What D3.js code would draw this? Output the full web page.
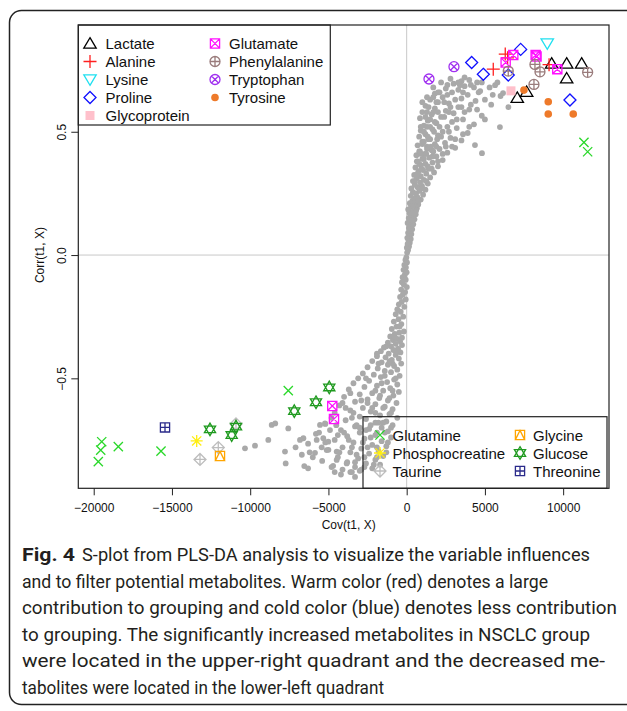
<!DOCTYPE html>
<html>
<head>
<meta charset="utf-8">
<script src="https://cdn.jsdelivr.net/npm/d3@7"></script>
<style>
body { margin: 0; background: #fff; }
text { font-family: "Liberation Sans", Arial, sans-serif; }
text.cap { font-family: Roboto, "Noto Sans", sans-serif; }
</style>
</head>
<body>
<script>
// tick values
var xTicks = [-20000, -15000, -10000, -5000, 0, 5000, 10000];
var yTicks = [-0.5, 0, 0.5];

// grey S-plot cloud: [cov, corr]
var cloud = [
  [30,0.01],[90,0.02],[10,0.03],[150,0.035],[60,0.045],[200,0.05],[120,0.06],[260,0.065],[40,0.07],[180,0.08],
  [300,0.085],[90,0.09],[230,0.1],[350,0.105],[140,0.11],[280,0.12],[420,0.125],[60,0.13],[200,0.135],[350,0.14],
  [500,0.145],[130,0.15],[260,0.155],[430,0.16],[580,0.165],[190,0.17],[340,0.175],[520,0.18],[100,0.185],[650,0.19],
  [280,0.195],[420,0.2],[740,0.205],[200,0.21],[560,0.215],[360,0.22],[900,0.225],[480,0.23],[680,0.235],[260,0.24],
  [1050,0.245],[600,0.25],[400,0.255],[820,0.26],[1200,0.265],[300,0.27],[700,0.275],[980,0.28],[520,0.285],[1350,0.29],
  [850,0.295],[400,0.3],[1100,0.305],[640,0.31],[1500,0.315],[900,0.32],[480,0.325],[1250,0.33],[1750,0.335],[760,0.34],
  [1050,0.345],[1400,0.35],[560,0.355],[2000,0.36],[900,0.365],[1200,0.37],[1650,0.375],[700,0.38],[2300,0.385],[1000,0.39],
  [1450,0.395],[1900,0.4],[620,0.405],[1150,0.41],[2600,0.415],[850,0.42],[1600,0.425],[2100,0.43],[3100,0.435],[1300,0.44],
  [700,0.445],[1800,0.45],[2450,0.455],[1000,0.46],[3500,0.465],[1500,0.47],[2800,0.475],[800,0.48],[2000,0.485],[1200,0.49],
  [3900,0.495],[2300,0.5],[900,0.505],[1650,0.51],[3200,0.515],[2600,0.52],[1100,0.525],[4300,0.53],[1900,0.535],[2900,0.54],
  [1350,0.545],[3600,0.55],[850,0.555],[2200,0.56],[4800,0.565],[1600,0.57],[3000,0.575],[1000,0.58],[2500,0.585],[4000,0.59],
  [1800,0.595],[3300,0.6],[1200,0.605],[5400,0.61],[2700,0.615],[2000,0.62],[4400,0.625],[1500,0.63],[3500,0.635],[2300,0.64],
  [6000,0.645],[3900,0.65],[1800,0.655],[2900,0.66],[4700,0.665],[3300,0.67],[2500,0.675],[5300,0.68],[3700,0.685],[4100,0.69],
  [3000,0.695],[4500,0.7],[3500,0.705],[4000,0.71],[3700,0.72],
  [500,0.3],[700,0.33],[950,0.35],[800,0.37],[1100,0.39],[900,0.41],[1300,0.43],[1000,0.45],[1400,0.47],[1100,0.5],
  [1300,0.52],[1500,0.55],[1200,0.56],[1700,0.58],[1400,0.6],[1900,0.62],[1700,0.64],[2100,0.66],[2600,0.69],[1350,0.48],
  [1750,0.5],[2100,0.52],[1950,0.47],[1550,0.44],[1250,0.41],[1650,0.4],[1350,0.36],[1700,0.42],
  [6160,0.657],[5650,0.689],[5960,0.519],[4812,0.413],[4364,0.446],[3405,0.689],
  [2400,0.56],[2800,0.6],[3100,0.63],[2600,0.65],[3600,0.66],[4300,0.68],[2200,0.70],[2800,0.715],[3300,0.7],[4600,0.66],
  [5000,0.63],[4100,0.61],[3700,0.58],[3200,0.55],[2700,0.5],[3100,0.47],[2500,0.44],[2300,0.41],[2000,0.38],[1600,0.35],
  [1250,0.3],[1000,0.27],[750,0.22],[600,0.18],[1800,0.54],[2000,0.58],[1500,0.52],[2400,0.62],[2000,0.66],[1300,0.58],
  [900,0.52],[1100,0.46],[800,0.42],[650,0.38],[1900,0.44],[2200,0.48],[2700,0.58],[3500,0.6],[4500,0.59],[5500,0.65],
  [6500,0.6],[5000,0.55],[4000,0.52],[3600,0.49],[2900,0.44],[1000,0.62],[1300,0.64],[1700,0.68],[4800,0.7],[5800,0.7],
  [-20,-0.01],[-80,-0.02],[20,-0.03],[-150,-0.04],[-50,-0.05],[-200,-0.06],[0,-0.07],[-120,-0.08],[-260,-0.09],[-60,-0.1],
  [-300,-0.11],[-180,-0.12],[10,-0.13],[-350,-0.14],[-100,-0.15],[-240,-0.16],[-420,-0.17],[-60,-0.18],
  [-320,-0.19],[-500,-0.2],[-150,-0.21],[-600,-0.22],[-380,-0.23],[-700,-0.24],[-220,-0.25],[-520,-0.26],[-820,-0.27],[-340,-0.28],
  [-650,-0.29],[-950,-0.3],[-180,-0.31],[-480,-0.315],[-760,-0.32],[-1050,-0.33],[-300,-0.335],[-600,-0.34],[-880,-0.345],[-420,-0.35],
  [-1200,-0.355],[-700,-0.36],[-300,-0.365],[-1000,-0.37],[-1450,-0.375],[-550,-0.38],[-850,-0.385],[-1650,-0.39],[-400,-0.395],[-1150,-0.4],
  [-700,-0.405],[-1900,-0.41],[-1350,-0.415],[-500,-0.42],[-950,-0.425],[-2200,-0.43],[-1600,-0.435],[-350,-0.44],[-1200,-0.445],[-800,-0.45],
  [-2500,-0.455],[-1850,-0.46],[-600,-0.465],[-1400,-0.47],
  [-1000,-0.475],[-2800,-0.48],[-2100,-0.485],[-450,-0.49],[-1650,-0.495],[-3100,-0.5],[-800,-0.505],[-2400,-0.51],[-1250,-0.515],[-3400,-0.52],
  [-600,-0.525],[-1900,-0.53],[-2700,-0.535],[-1050,-0.54],[-3700,-0.545],[-1500,-0.55],[-500,-0.555],[-2200,-0.56],[-3000,-0.565],[-850,-0.57],
  [-4000,-0.575],[-1750,-0.58],[-2500,-0.585],[-1200,-0.59],
  [-3300,-0.595],[-650,-0.6],[-2000,-0.605],[-4300,-0.61],[-1400,-0.615],[-2800,-0.62],[-900,-0.625],[-3600,-0.63],[-2300,-0.635],[-4600,-0.64],
  [-1100,-0.645],[-1700,-0.65],[-3000,-0.655],[-600,-0.66],[-2600,-0.665],[-3900,-0.67],[-1300,-0.675],[-2000,-0.68],[-5200,-0.685],[-900,-0.69],
  [-3300,-0.695],[-1600,-0.7],[-2400,-0.705],[-4200,-0.71],
  [-1200,-0.715],[-3000,-0.72],[-5800,-0.725],[-2000,-0.73],[-3800,-0.735],[-1000,-0.74],[-2700,-0.745],[-4600,-0.75],[-1600,-0.755],[-3400,-0.76],
  [-6300,-0.765],[-2200,-0.77],[-1300,-0.775],[-4100,-0.78],[-2900,-0.785],[-5000,-0.79],[-1800,-0.795],[-3600,-0.8],[-2400,-0.805],[-6700,-0.81],
  [-1500,-0.815],[-4400,-0.82],[-3100,-0.825],[-2000,-0.83],[-5400,-0.835],[-3800,-0.84],[-2600,-0.845],[-1700,-0.85],[-4700,-0.855],[-3300,-0.86],
  [-2200,-0.865],[-4100,-0.87],[-3000,-0.875],[-3600,-0.88],
  [-8626,-0.689],[-8400,-0.683],[-7566,-0.703],[-8843,-0.75],[-10332,-0.784],[-9693,-0.773],[-7776,-0.797],[-7732,-0.845],[-6543,-0.856],[-6300,-0.865],
  [-6818,-0.75],[-6600,-0.743],[-5751,-0.75],[-5329,-0.743],[-5010,-0.757],[-5431,-0.78],[-5112,-0.791],[-5859,-0.802],[-4473,-0.797],[-4473,-0.831],
  [-3834,-0.845],[-5540,-0.689],[-5220,-0.683],[-7100,-0.78],[-6000,-0.82],[-4800,-0.86],
  [-1500,-0.62],[-2500,-0.6],[-3500,-0.66],[-1900,-0.72],[-2800,-0.76],[-3200,-0.69],[-1100,-0.58],[-1600,-0.52],[-2300,-0.74],[-1300,-0.8],
  [-2700,-0.82],[-3500,-0.78],[-2000,-0.64],[-4000,-0.72],[-700,-0.5],[-900,-0.44],[-1800,-0.68],[-4900,-0.71],[-3900,-0.62],[-2100,-0.85],
  [-2900,-0.87],[-3300,-0.84],[-4500,-0.69],[-1000,-0.7],
  [-2200,-0.62],[-3000,-0.7],[-1500,-0.68],[-3700,-0.75],[-2500,-0.78],[-4300,-0.8],[-1900,-0.82],[-3200,-0.81],[-1200,-0.76],[-2600,-0.71],
  [-3400,-0.64],[-4800,-0.66],[-4100,-0.6],[-3600,-0.56],[-2900,-0.59],[-2000,-0.55],[-2600,-0.5],[-1400,-0.49],[-1800,-0.44],[-1100,-0.43],
  [-700,-0.39],[-1300,-0.37],[-800,-0.33],[-450,-0.29],[-1700,-0.57],[-1000,-0.64],[-1400,-0.72],[-2300,-0.69],[-4400,-0.73],[-5200,-0.76],
  [-5600,-0.72],[-6200,-0.8],[-3500,-0.88],[-2700,-0.86],[-1900,-0.78],[-900,-0.55],[-1900,-0.4],[-4200,-0.89],[-3300,-0.9],[-4600,-0.88]
];

// highlighted metabolites: [cov, corr]
var lactate = [[9265,0.777],[10224,0.777],[11182,0.777],[10224,0.717],[7067,0.638],[7668,0.662]];
var alanine = [[5534,0.754],[6300,0.815],[6450,0.800],[9100,0.772]];
var lysine = [[8984,0.858]];
var proline = [[7284,0.834],[4153,0.781],[4898,0.733],[6492,0.730],[10435,0.629]];
var glycoprotein = [[6665,0.666]];
var glutamate = [[6812,0.811],[6326,0.781],[8243,0.811],[8300,0.805],[9625,0.754],[-4754,-0.612],[-4645,-0.665]];
var phenylalanine = [[8198,0.773],[8518,0.743],[8134,0.692],[6492,0.746],[11565,0.741]];
var tryptophan = [[3022,0.764],[1425,0.714]];
var tyrosine = [[7495,0.669],[9048,0.622],[9048,0.572],[10646,0.572]];
var glutamine = [[11329,0.457],[11565,0.419],[-19489,-0.757],[-19553,-0.791],[-19706,-0.838],[-18428,-0.777],[-15700,-0.795],[-7566,-0.550]];
var phosphocreatine = [[-13419,-0.754]];
var taurine = [[-13208,-0.829],[-12038,-0.781],[-10907,-0.685]];
var glycine = [[-11930,-0.815]];
var glucose = [[-12569,-0.707],[-11182,-0.730],[-10907,-0.696],[-7182,-0.633],[-5796,-0.597],[-4946,-0.537]];
var threonine = [[-15444,-0.699]];

var captionLines = [
  "S-plot from PLS-DA analysis to visualize the variable influences",
  "and to filter potential metabolites. Warm color (red) denotes a large",
  "contribution to grouping and cold color (blue) denotes less contribution",
  "to grouping. The significantly increased metabolites in NSCLC group",
  "were located in the upper-right quadrant and the decreased me-",
  "tabolites were located in the lower-left quadrant"
];
var captionEnds = [590, 548, 617, 590, 605, 384];

var series = [
  {name: "Lactate", pts: lactate, shape: "triUp", color: "#000000", leg: 1, col: 0, row: 0},
  {name: "Alanine", pts: alanine, shape: "plus", color: "#ff2020", leg: 1, col: 0, row: 1},
  {name: "Lysine", pts: lysine, shape: "triDown", color: "#20e0f0", leg: 1, col: 0, row: 2},
  {name: "Proline", pts: proline, shape: "diamond", color: "#1010ff", leg: 1, col: 0, row: 3},
  {name: "Glycoprotein", pts: glycoprotein, shape: "squareFill", color: "#ffc0cb", leg: 1, col: 0, row: 4},
  {name: "Glutamate", pts: glutamate, shape: "squareX", color: "#ff10ff", leg: 1, col: 1, row: 0},
  {name: "Phenylalanine", pts: phenylalanine, shape: "circlePlus", color: "#9a7c7c", leg: 1, col: 1, row: 1},
  {name: "Tryptophan", pts: tryptophan, shape: "circleX", color: "#a030f0", leg: 1, col: 1, row: 2},
  {name: "Tyrosine", pts: tyrosine, shape: "dot", color: "#ee7a2a", leg: 1, col: 1, row: 3},
  {name: "Glutamine", pts: glutamine, shape: "cross", color: "#2ad82a", leg: 2, col: 0, row: 0},
  {name: "Phosphocreatine", pts: phosphocreatine, shape: "asterisk", color: "#ffee10", leg: 2, col: 0, row: 1},
  {name: "Taurine", pts: taurine, shape: "diamondPlus", color: "#bdbdbd", leg: 2, col: 0, row: 2},
  {name: "Glycine", pts: glycine, shape: "squareTri", color: "#ffa500", leg: 2, col: 1, row: 0},
  {name: "Glucose", pts: glucose, shape: "star", color: "#1f9a1f", leg: 2, col: 1, row: 1},
  {name: "Threonine", pts: threonine, shape: "squarePlus", color: "#2a2a8a", leg: 2, col: 1, row: 2}
];

var W = 627, H = 711;
var svg = d3.select("body").append("svg").attr("width", W).attr("height", H);

// outer figure frame, right side runs off the page
svg.append("rect").attr("x", 9.5).attr("y", 10.5).attr("width", 700).attr("height", 694)
  .attr("rx", 12).attr("fill", "none").attr("stroke", "#222").attr("stroke-width", 1.5);

var pl = 78.3, pr = 609, pt = 25, pb = 488.3;
var x = d3.scaleLinear().domain([-20985, 12930]).range([pl, pr]);
var y = d3.scaleLinear().domain([-0.946, 0.933]).range([pb, pt]);

// reference lines
svg.append("line").attr("x1", x(0)).attr("x2", x(0)).attr("y1", pt).attr("y2", pb)
  .attr("stroke", "#c8c8c8").attr("stroke-width", 1);
svg.append("line").attr("x1", pl).attr("x2", pr).attr("y1", y(0)).attr("y2", y(0))
  .attr("stroke", "#c8c8c8").attr("stroke-width", 1);

// cloud
svg.append("g").selectAll("circle")
  .data(cloud).enter().append("circle")
  .attr("cx", function(d) { return x(d[0]); })
  .attr("cy", function(d) { return y(d[1]); })
  .attr("r", 2.9)
  .attr("fill", "#a9a9a9");

// R-like plotting symbols, centred on 0,0
function shapePath(s) {
  var p = d3.path();
  function poly(pts) {
    p.moveTo(pts[0][0], pts[0][1]);
    for (var i = 1; i < pts.length; i++) p.lineTo(pts[i][0], pts[i][1]);
    p.closePath();
  }
  function seg(a, b, c, d) { p.moveTo(a, b); p.lineTo(c, d); }
  var r = 6, q = 4.6;
  switch (s) {
    case "triUp": poly([[0, -5.8], [6.2, 4.6], [-6.2, 4.6]]); break;
    case "triDown": poly([[0, 5.8], [6.2, -4.6], [-6.2, -4.6]]); break;
    case "plus": seg(-6.5, 0, 6.5, 0); seg(0, -6.5, 0, 6.5); break;
    case "cross": seg(-q, -q, q, q); seg(-q, q, q, -q); break;
    case "asterisk": seg(-6, 0, 6, 0); seg(0, -6, 0, 6); seg(-q, -q, q, q); seg(-q, q, q, -q); break;
    case "diamond": poly([[0, -r], [r, 0], [0, r], [-r, 0]]); break;
    case "diamondPlus": poly([[0, -r], [r, 0], [0, r], [-r, 0]]); seg(-r, 0, r, 0); seg(0, -r, 0, r); break;
    case "squareX": p.rect(-q, -q, 2 * q, 2 * q); seg(-q, -q, q, q); seg(-q, q, q, -q); break;
    case "squarePlus": p.rect(-q, -q, 2 * q, 2 * q); seg(-q, 0, q, 0); seg(0, -q, 0, q); break;
    case "squareTri": p.rect(-q, -q, 2 * q, 2 * q); poly([[0, -q], [q, q], [-q, q]]); break;
    case "circlePlus": p.moveTo(5, 0); p.arc(0, 0, 5, 0, 2 * Math.PI); seg(-5, 0, 5, 0); seg(0, -5, 0, 5); break;
    case "circleX": p.moveTo(5, 0); p.arc(0, 0, 5, 0, 2 * Math.PI); seg(-3.5, -3.5, 3.5, 3.5); seg(-3.5, 3.5, 3.5, -3.5); break;
    case "star": poly([[0, -6.3], [5.6, 3.3], [-5.6, 3.3]]); poly([[0, 6.3], [5.6, -3.3], [-5.6, -3.3]]); break;
    case "squareFill": p.rect(-4.5, -4.5, 9, 9); break;
    case "dot": p.moveTo(3.8, 0); p.arc(0, 0, 3.8, 0, 2 * Math.PI); break;
  }
  return p.toString();
}
function isFilled(s) { return s === "squareFill" || s === "dot"; }

function drawSymbol(g, s, color) {
  g.append("path").attr("d", shapePath(s))
    .attr("fill", isFilled(s) ? color : "none")
    .attr("stroke", isFilled(s) ? "none" : color)
    .attr("stroke-width", 1.3);
}

series.forEach(function(ser) {
  svg.append("g").selectAll("g")
    .data(ser.pts).enter().append("g")
    .attr("transform", function(d) { return "translate(" + x(d[0]) + "," + y(d[1]) + ")"; })
    .each(function() { drawSymbol(d3.select(this), ser.shape, ser.color); });
});

// plot box
svg.append("rect").attr("x", pl).attr("y", pt).attr("width", pr - pl).attr("height", pb - pt)
  .attr("fill", "none").attr("stroke", "#222").attr("stroke-width", 1.2);

// axes
var xAxis = svg.append("g").attr("transform", "translate(0," + pb + ")")
  .call(d3.axisBottom(x).tickValues(xTicks).tickSize(7).tickPadding(8)
    .tickFormat(function(d) { return d < 0 ? "\u2212" + Math.abs(d) : String(d); }));
xAxis.select(".domain").remove();
xAxis.selectAll("text").attr("font-size", 12).attr("fill", "#111")
  .attr("font-family", "'Liberation Sans', Arial, sans-serif");
xAxis.selectAll("line").attr("stroke", "#222");

var yAxis = svg.append("g").attr("transform", "translate(" + pl + ",0)")
  .call(d3.axisLeft(y).tickValues(yTicks).tickSize(7)
    .tickFormat(function(d) { return d < 0 ? "\u22120.5" : d3.format(".1f")(d); }));
yAxis.select(".domain").remove();
yAxis.selectAll("line").attr("stroke", "#222");
yAxis.selectAll("text").attr("font-size", 12).attr("fill", "#111")
  .attr("font-family", "'Liberation Sans', Arial, sans-serif")
  .attr("x", null).attr("dy", null).attr("text-anchor", "middle")
  .attr("transform", "translate(-12,0) rotate(-90)");

svg.append("text").attr("x", (pl + pr) / 2 + 5).attr("y", 529).attr("text-anchor", "middle")
  .attr("font-size", 12).attr("fill", "#111").text("Cov(t1, X)");
svg.append("text").attr("transform", "translate(44," + y(0) + ") rotate(-90)")
  .attr("text-anchor", "middle").attr("font-size", 12).attr("fill", "#111").text("Corr(t1, X)");

// legends
var legBoxes = {
  1: {x: pl, y: pt, w: 252, h: 100, sx: [90, 215], tx: [105.5, 229], y0: 43.5},
  2: {x: 363, y: 416.7, w: 244, h: pb - 416.7, sx: [380, 520], tx: [392.5, 533], y0: 435}
};
[1, 2].forEach(function(k) {
  var b = legBoxes[k];
  svg.append("rect").attr("x", b.x).attr("y", b.y).attr("width", b.w).attr("height", b.h)
    .attr("fill", "none").attr("stroke", "#222").attr("stroke-width", 1.2);
});
series.forEach(function(ser) {
  var b = legBoxes[ser.leg];
  var cy = b.y0 + ser.row * 18;
  var g = svg.append("g").attr("transform", "translate(" + b.sx[ser.col] + "," + cy + ")");
  drawSymbol(g, ser.shape, ser.color);
  svg.append("text").attr("x", b.tx[ser.col]).attr("y", cy + 5.5)
    .attr("font-size", 15).attr("fill", "#111").text(ser.name);
});

// caption
var cap = svg.append("g");
cap.append("text").attr("class", "cap").attr("x", 22).attr("y", 561).attr("font-size", 19)
  .attr("fill", "#231f20").attr("font-weight", "bold")
  .attr("textLength", 53).attr("lengthAdjust", "spacingAndGlyphs")
  .text("Fig. 4");
captionLines.forEach(function(line, i) {
  var x0 = i === 0 ? 82 : 22;
  cap.append("text").attr("class", "cap").attr("x", x0).attr("y", 561 + i * 26.6)
    .attr("font-size", 19).attr("fill", "#231f20")
    .attr("textLength", captionEnds[i] - x0).attr("lengthAdjust", "spacingAndGlyphs")
    .text(line);
});
</script>
</body>
</html>
